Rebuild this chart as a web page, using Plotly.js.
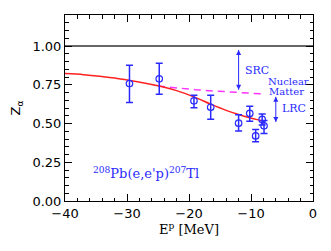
<!DOCTYPE html>
<html><head><meta charset="utf-8">
<script src="https://cdn.plot.ly/plotly-3.0.1.min.js"></script>
<style>html,body{margin:0;padding:0;background:#fff}#chart{width:331px;height:251px}</style>
</head><body><div id="chart"></div>
<script>
// Data points (E^p in MeV, spectroscopic factor Z)
const dataE   = [-29.6, -24.8, -19.2, -16.5, -12.0, -10.2, -9.25, -8.2, -7.9];
const dataZ   = [0.758, 0.788, 0.646, 0.605, 0.502, 0.565, 0.420, 0.526, 0.485];
const errUp   = [0.118, 0.101, 0.037, 0.078, 0.054, 0.047, 0.042, 0.036, 0.035];
const errDown = [0.122, 0.099, 0.045, 0.077, 0.051, 0.050, 0.038, 0.036, 0.049];
// Red theory curve
const curveE = [-40, -37, -34.4, -32, -29.6, -27, -24.8, -22, -19.2, -16.5, -14, -12, -10.2, -9, -7.8];
const curveZ = [0.822, 0.815, 0.805, 0.793, 0.778, 0.76, 0.742, 0.712, 0.672, 0.625, 0.585, 0.558, 0.537, 0.525, 0.515];
// Magenta dashed nuclear matter curve
const nmE = [-25, -22, -19, -16, -13, -11, -9, -7.8];
const nmZ = [0.742, 0.728, 0.718, 0.710, 0.703, 0.698, 0.693, 0.690];
// Reference line at Z=1
const refE = [-40, 0];
const refZ = [1, 1];
// Double arrows: SRC (between 1 and nuclear matter) and LRC
const srcE = [-12, -12];
const srcZ = [0.975, 0.718];
const lrcE = [-6, -6];
const lrcZ = [0.672, 0.51];

const blue = '#2a2aff';
function arrowTrace(xs, ys) {
  return {x: xs, y: ys, mode: 'lines+markers', line: {color: blue, width: 1},
    marker: {symbol: ['arrow-up', 'arrow-down'], size: 5, color: blue, line: {width: 0}}, hoverinfo: 'skip'};
}
const traces = [
  {x: refE, y: refZ, mode: 'lines', line: {color: '#333', width: 1.3}, hoverinfo: 'skip'},
  {x: nmE, y: nmZ, mode: 'lines', line: {color: '#ff33ff', width: 1.5, dash: '7px,5px'}},
  {x: curveE, y: curveZ, mode: 'lines', line: {color: '#ff2020', width: 1.5, shape: 'spline'}},
  arrowTrace(srcE, srcZ),
  arrowTrace(lrcE, lrcZ),
  {x: dataE, y: dataZ, mode: 'markers',
   marker: {symbol: 'circle-open', size: 6.5, color: blue, line: {width: 1.2, color: blue}},
   error_y: {type: 'data', symmetric: false, array: errUp, arrayminus: errDown, color: blue, thickness: 1.5, width: 3.5}}
];
const fontSerif = 'DejaVu Serif, serif';
const layout = {
  width: 331, height: 251,
  margin: {l: 65, r: 18, t: 15, b: 50},
  showlegend: false,
  paper_bgcolor: '#fff', plot_bgcolor: '#fff',
  xaxis: {range: [-40, 0], tickvals: [-40, -30, -20, -10, 0], ticktext: ['\u221240', '\u221230', '\u221220', '\u221210', '0'],
    ticks: 'inside', ticklen: 7, tickwidth: 1, tickcolor: '#000', mirror: 'allticks',
    showline: true, linecolor: '#000', linewidth: 1, showgrid: false, zeroline: false,
    minor: {dtick: 2, ticks: 'inside', ticklen: 3.5, tickcolor: '#000', showgrid: false},
    tickfont: {family: 'DejaVu Sans, sans-serif', size: 13, color: '#000'},
    title: {text: 'E<sup>p</sup> [MeV]', font: {family: fontSerif, size: 13, color: '#000'}, standoff: 4}},
  yaxis: {range: [0, 1.2], tickvals: [0, 0.25, 0.5, 0.75, 1.0], ticktext: ['0.00', '0.25', '0.50', '0.75', '1.00'],
    ticks: 'inside', ticklen: 7, tickwidth: 1, tickcolor: '#000', mirror: 'allticks',
    showline: true, linecolor: '#000', linewidth: 1, showgrid: false, zeroline: false,
    minor: {dtick: 0.05, ticks: 'inside', ticklen: 3.5, tickcolor: '#000', showgrid: false},
    tickfont: {family: 'DejaVu Sans, sans-serif', size: 13, color: '#000'},
    title: {text: 'Z<sub>α</sub>', font: {family: 'DejaVu Sans, sans-serif', size: 13, color: '#000'}, standoff: 8}},
  annotations: [
    {x: -11.1, y: 0.845, xref: 'x', yref: 'y', text: 'SRC', showarrow: false, xanchor: 'left',
     font: {family: fontSerif, size: 11, color: blue}, borderpad: 0},
    {x: -4.0, y: 0.773, xref: 'x', yref: 'y', text: 'Nuclear', showarrow: false, xanchor: 'center',
     font: {family: fontSerif, size: 10, color: blue}, borderpad: 0},
    {x: -4.2, y: 0.708, xref: 'x', yref: 'y', text: 'Matter', showarrow: false, xanchor: 'center',
     font: {family: fontSerif, size: 10, color: blue}, borderpad: 0},
    {x: -5.1, y: 0.597, xref: 'x', yref: 'y', text: 'LRC', showarrow: false, xanchor: 'left',
     font: {family: fontSerif, size: 11, color: blue}, borderpad: 0},
    {x: -35.8, y: 0.18, xref: 'x', yref: 'y', text: '<sup>208</sup>Pb(e,e\'p)<sup>207</sup>Tl', showarrow: false, xanchor: 'left',
     font: {family: fontSerif, size: 13, color: blue}}
  ]
};
Plotly.newPlot('chart', traces, layout, {staticPlot: true, displayModeBar: false});
</script></body></html>
